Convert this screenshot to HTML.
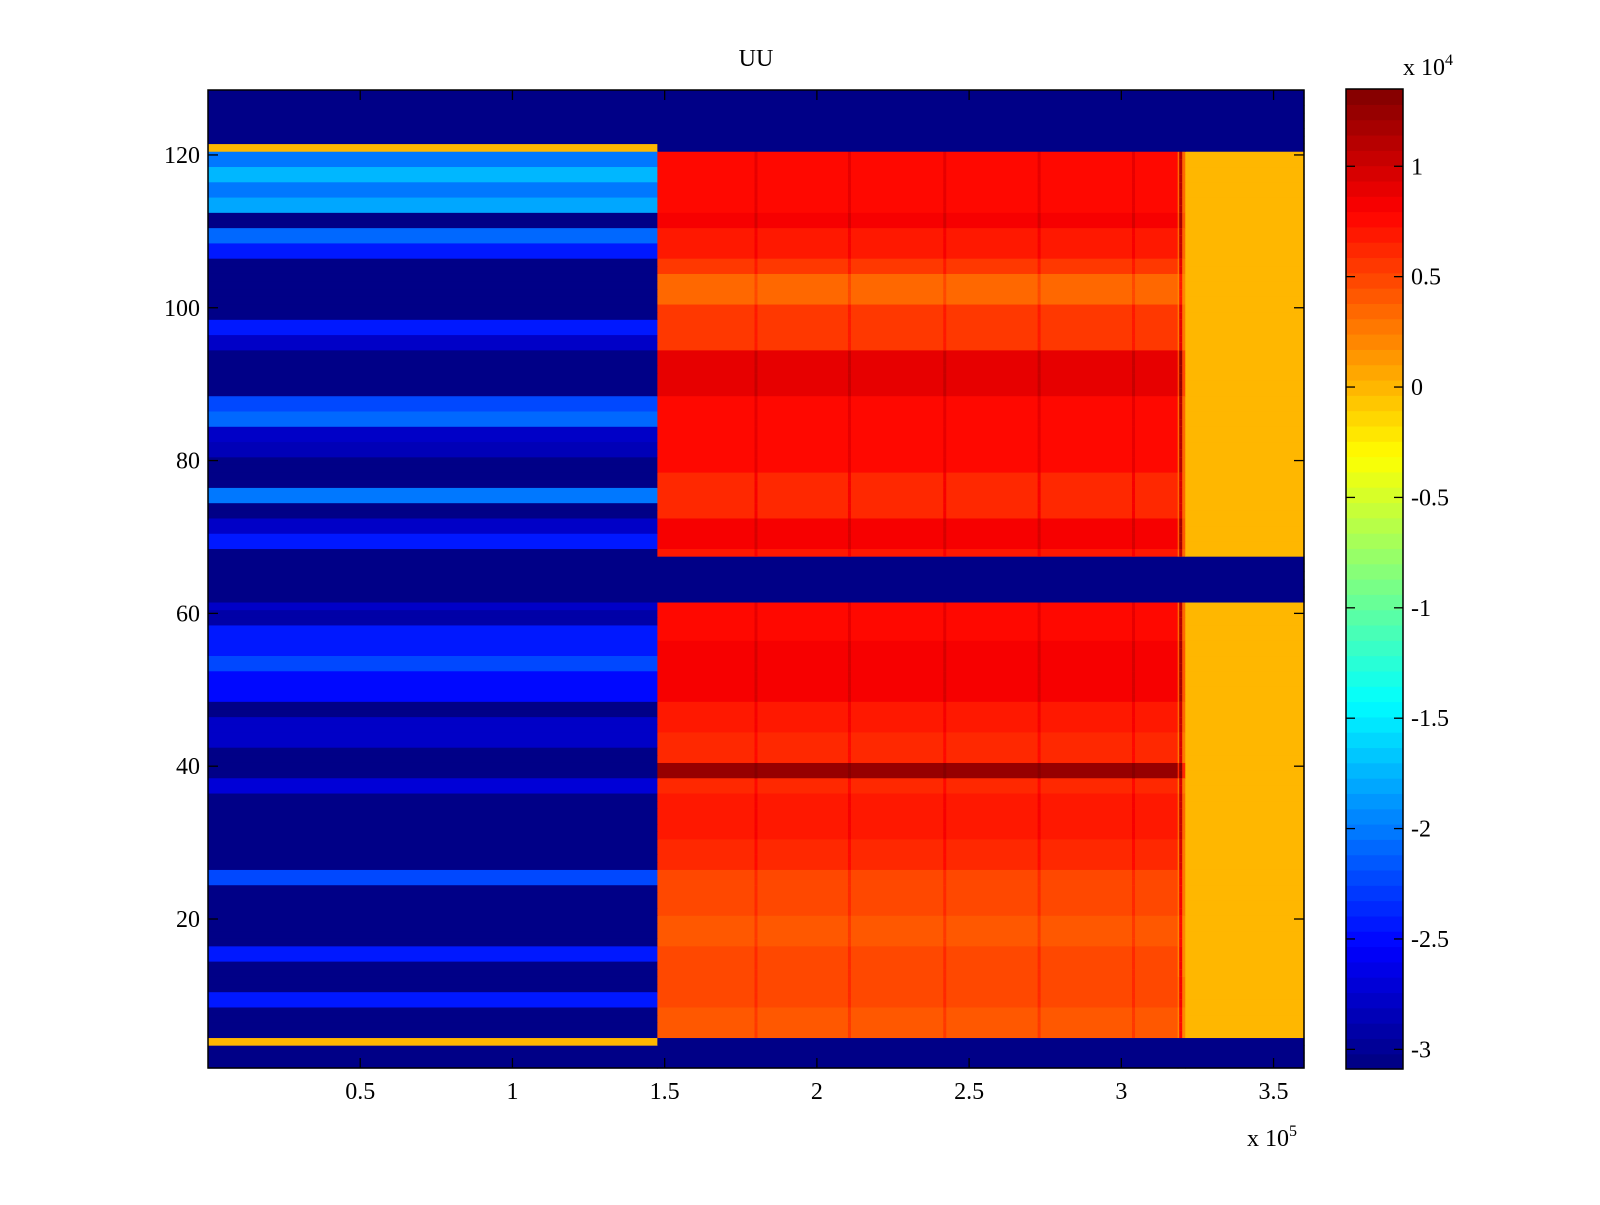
<!DOCTYPE html>
<html><head><meta charset="utf-8"><style>
html,body{margin:0;padding:0;background:#fff;}
svg text{font-family:"Liberation Serif",serif;fill:#000;}
</style></head><body>
<svg id="chart" width="1600" height="1200" viewBox="0 0 1600 1200" xmlns="http://www.w3.org/2000/svg">
<rect width="1600" height="1200" fill="#fff"/>
<g id="cells"></g>
<g id="axes"></g>
<g id="cbar"></g>
<text x="756" y="66" font-size="24" text-anchor="middle">UU</text>
</svg>
<script>
// values in units of 1e4; rows 1..128 (index 0 = row 1)
const leftValues = [
-3.05,-3.05,-3.05,0,-3.05,-3.05,-3.05,-3.05,-2.42,-2.42,
-3.05,-3.05,-3.05,-3.05,-2.42,-2.42,-3.05,-3.05,-3.05,-3.05,
-3.05,-3.05,-3.05,-3.05,-2.2,-2.2,-3.05,-3.05,-3.05,-3.05,
-3.05,-3.05,-3.05,-3.05,-3.05,-3.05,-2.69,-2.69,-3.05,-3.05,
-3.05,-3.05,-2.76,-2.76,-2.81,-2.81,-3.05,-3.05,-2.5,-2.5,
-2.5,-2.5,-2.2,-2.2,-2.45,-2.45,-2.45,-2.45,-2.95,-2.95,
-2.76,-3.05,-3.05,-3.05,-3.05,-3.05,-3.05,-3.05,-2.42,-2.42,
-2.81,-2.81,-3.05,-3.05,-1.98,-1.98,-3.05,-3.05,-3.05,-3.05,
-2.85,-2.85,-2.76,-2.76,-2.09,-2.09,-2.2,-2.2,-3.05,-3.05,
-3.05,-3.05,-3.05,-3.05,-2.81,-2.81,-2.42,-2.42,-3.05,-3.05,
-3.05,-3.05,-3.05,-3.05,-3.05,-3.05,-2.42,-2.42,-2.09,-2.09,
-3.05,-3.05,-1.81,-1.81,-1.98,-1.98,-1.76,-1.76,-2.03,-2.03,
0,-3.05,-3.05,-3.05,-3.05,-3.05,-3.05,-3.05];
const midValues = [
-3.05,-3.05,-3.05,-3.05,0.4,0.4,0.4,0.4,0.5,0.5,
0.5,0.5,0.45,0.45,0.45,0.45,0.4,0.4,0.4,0.4,
0.5,0.5,0.5,0.5,0.5,0.5,0.6,0.6,0.6,0.6,
0.7,0.7,0.7,0.7,0.7,0.7,0.6,0.6,1.25,1.25,
0.6,0.6,0.6,0.6,0.7,0.7,0.7,0.7,0.85,0.85,
0.85,0.85,0.85,0.85,0.85,0.85,0.75,0.75,0.75,0.75,
0.75,-3.05,-3.05,-3.05,-3.05,-3.05,-3.05,0.7,0.85,0.85,
0.85,0.85,0.65,0.65,0.65,0.65,0.65,0.65,0.75,0.75,
0.75,0.75,0.75,0.75,0.75,0.75,0.75,0.75,0.92,0.92,
0.92,0.92,0.92,0.92,0.55,0.55,0.55,0.55,0.55,0.55,
0.35,0.35,0.35,0.35,0.55,0.55,0.7,0.7,0.7,0.7,
0.85,0.85,0.75,0.75,0.75,0.75,0.75,0.75,0.75,0.75,
-3.05,-3.05,-3.05,-3.05,-3.05,-3.05,-3.05,-3.05];
const rightValues = [
-3.05,-3.05,-3.05,-3.05,0,0,0,0,0,0,
0,0,0,0,0,0,0,0,0,0,
0,0,0,0,0,0,0,0,0,0,
0,0,0,0,0,0,0,0,0,0,
0,0,0,0,0,0,0,0,0,0,
0,0,0,0,0,0,0,0,0,0,
0,-3.05,-3.05,-3.05,-3.05,-3.05,-3.05,0,0,0,
0,0,0,0,0,0,0,0,0,0,
0,0,0,0,0,0,0,0,0,0,
0,0,0,0,0,0,0,0,0,0,
0,0,0,0,0,0,0,0,0,0,
0,0,0,0,0,0,0,0,0,0,
-3.05,-3.05,-3.05,-3.05,-3.05,-3.05,-3.05,-3.05];
// column segment boundaries (units of 1e5)
const segmentEdges = [0, 1.476, 3.185, 3.21, 3.6];
const streakX = [1.80, 2.107, 2.42, 2.73, 3.04, 3.195];
const streakBoost = [0.15, 0.15, 0.15, 0.15, 0.15, 0.35];
const xTicks = [0.5, 1, 1.5, 2, 2.5, 3, 3.5];
const xTickLabels = ["0.5","1","1.5","2","2.5","3","3.5"];
const yTicks = [20, 40, 60, 80, 100, 120];
const yTickLabels = ["20","40","60","80","100","120"];
const cTicks = [-3, -2.5, -2, -1.5, -1, -0.5, 0, 0.5, 1];
const cTickLabels = ["-3","-2.5","-2","-1.5","-1","-0.5","0","0.5","1"];

const L=208,R=1304,T=90,B=1068;
const xMin=0,xMax=3.6,yMin=0.5,yMax=128.5,cMin=-3.089,cMax=1.35;
const CL=1346,CR=1403,CT=89,CB=1069;
const xs=v=>L+(v-xMin)/(xMax-xMin)*(R-L);
const ys=v=>B-(v-yMin)/(yMax-yMin)*(B-T);
const cs=v=>CB-(v-cMin)/(cMax-cMin)*(CB-CT);
function jet(v){
  let f=(v-cMin)/(cMax-cMin); f=Math.max(0,Math.min(1,f));
  let i=Math.min(63,Math.floor(f*64)); f=(i+0.5)/64;
  const c=x=>Math.max(0,Math.min(1,x));
  const r=c(Math.min(4*f-1.5,-4*f+4.5)),g=c(Math.min(4*f-0.5,-4*f+3.5)),b=c(Math.min(4*f+0.5,-4*f+2.5));
  return `rgb(${Math.round(r*255)},${Math.round(g*255)},${Math.round(b*255)})`;
}
const NS="http://www.w3.org/2000/svg";
function mk(tag,attrs,parent){const e=document.createElementNS(NS,tag);for(const k in attrs)e.setAttribute(k,attrs[k]);parent.appendChild(e);return e;}
const cells=document.getElementById('cells');
const segVals=[leftValues,midValues,null,rightValues];
for(let r=0;r<128;r++){
  const row=r+1, y0=ys(row+0.5), y1=ys(row-0.5);
  for(let s=0;s<4;s++){
    let v;
    if(s===2){ v = midValues[r]<-2 ? midValues[r] : (midValues[r]+rightValues[r])/2; }
    else v=segVals[s][r];
    const x0=xs(segmentEdges[s]), x1=xs(segmentEdges[s+1]);
    const el=mk('rect',{x:x0,y:y0,width:x1-x0+0.6,height:y1-y0+0.6,fill:jet(v)},cells);
    
    
  }
  if(midValues[r]>-2){
    for(let k=0;k<streakX.length;k++){
      const el=mk('rect',{x:xs(streakX[k])-1.5,y:y0,width:3,height:y1-y0+0.6,fill:jet(midValues[r]+streakBoost[k])},cells);
      
      
    }
  }
}
const axes=document.getElementById('axes');
const frame=mk('rect',{x:L,y:T,width:R-L,height:B-T,fill:'none',stroke:'#000','stroke-width':1.5},axes);


xTicks.forEach((t,i)=>{
  const x=xs(t);
  mk('line',{x1:x,y1:B,x2:x,y2:B-10,stroke:'#000','stroke-width':1.3},axes);
  mk('line',{x1:x,y1:T,x2:x,y2:T+10,stroke:'#000','stroke-width':1.3},axes);
  const tx=mk('text',{x:x,y:B+31,'font-size':24,'text-anchor':'middle'},axes);
  tx.textContent=xTickLabels[i];
  
  
});
yTicks.forEach((t,i)=>{
  const y=ys(t);
  mk('line',{x1:L,y1:y,x2:L+10,y2:y,stroke:'#000','stroke-width':1.3},axes);
  mk('line',{x1:R,y1:y,x2:R-10,y2:y,stroke:'#000','stroke-width':1.3},axes);
  const tx=mk('text',{x:L-8,y:y+8,'font-size':24,'text-anchor':'end'},axes);
  tx.textContent=yTickLabels[i];
  
  
});
const xe=mk('text',{x:1247,y:1146,'font-size':24},axes);
xe.innerHTML='x 10<tspan dy="-10" font-size="16">5</tspan>';


const cb=document.getElementById('cbar');
for(let i=0;i<64;i++){
  const v0=cMin+(cMax-cMin)*i/64, v1=cMin+(cMax-cMin)*(i+1)/64;
  const el=mk('rect',{x:CL,y:cs(v1),width:CR-CL,height:cs(v0)-cs(v1)+0.6,fill:jet((v0+v1)/2)},cb);
  
  
}
mk('rect',{x:CL,y:CT,width:CR-CL,height:CB-CT,fill:'none',stroke:'#000','stroke-width':1.5},cb);
cTicks.forEach((t,i)=>{
  const y=cs(t);
  mk('line',{x1:CL,y1:y,x2:CL+9,y2:y,stroke:'#000','stroke-width':1.3},cb);
  mk('line',{x1:CR,y1:y,x2:CR-9,y2:y,stroke:'#000','stroke-width':1.3},cb);
  const tx=mk('text',{x:CR+8,y:y+8,'font-size':24},cb);
  tx.textContent=cTickLabels[i];
  
  
});
const ce=mk('text',{x:1403,y:75,'font-size':24},cb);
ce.innerHTML='x 10<tspan dy="-10" font-size="16">4</tspan>';


</script>
</body></html>
